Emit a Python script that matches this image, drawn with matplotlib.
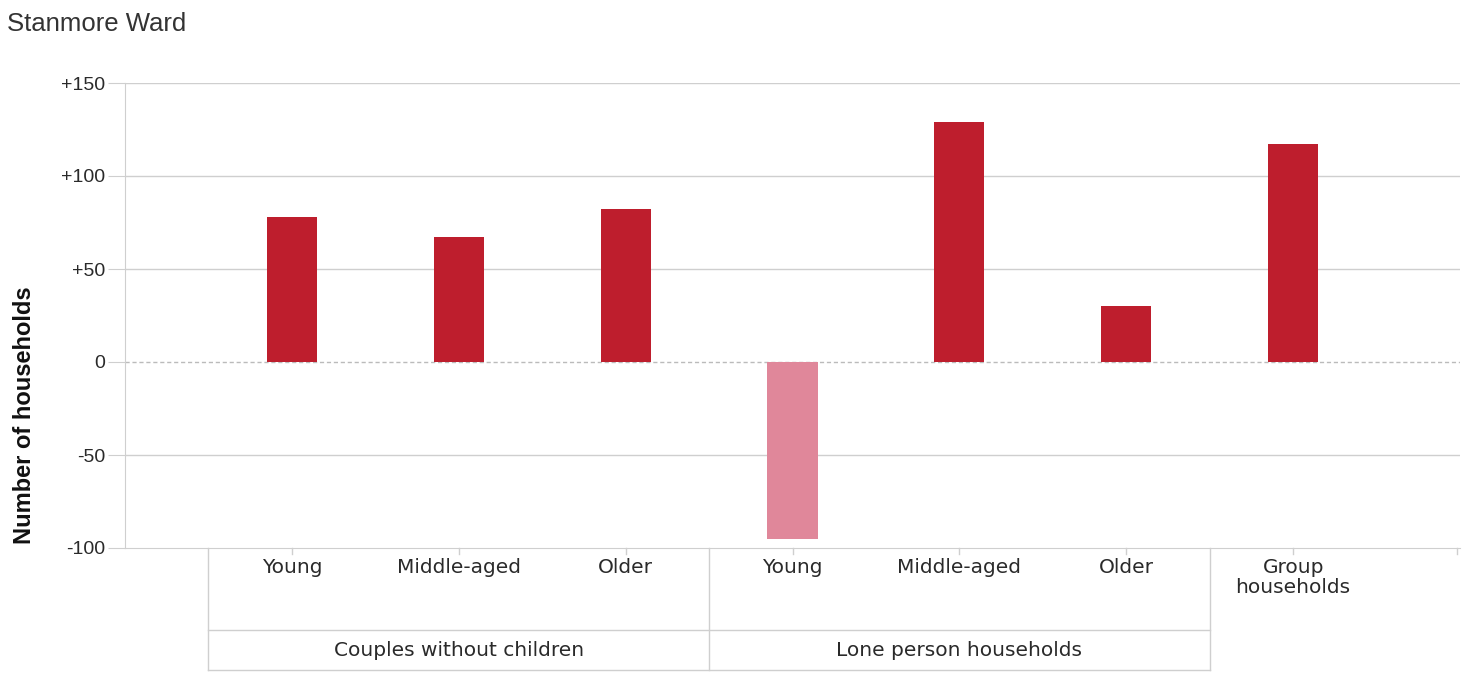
import matplotlib.pyplot as plt
import matplotlib.transforms as mtransforms

# data
sub_labels = ["Young", "Middle-aged", "Older", "Young", "Middle-aged", "Older", "Group\nhouseholds"]
group_labels = ["Couples without children", "Lone person households"]
group_spans = [(0, 2), (3, 5)]
values = [78, 67, 82, -95, 129, 30, 117]

dark_red = "#BE1E2D"
pink = "#E0879A"
grid_col = "#CFCFCF"
text_col = "#2A2A2A"

fig = plt.figure(figsize=(14.66, 6.73), dpi=100)
ax = fig.add_axes([125 / 1466, 1 - 548 / 673, (1460 - 125) / 1466, 465 / 673])

x = list(range(len(values)))
colors = [dark_red if v >= 0 else pink for v in values]
ax.bar(x, values, width=0.3, color=colors, zorder=3)

ax.set_xlim(-1, 7)
ax.set_ylim(-100, 150)
ax.set_yticks([-100, -50, 0, 50, 100, 150])
ax.set_yticklabels(["-100", "-50", "0", "+50", "+100", "+150"],
                   fontsize=14, color=text_col, family="Liberation Sans")
ax.tick_params(axis="y", length=12, color=grid_col, pad=2)
ax.set_xticks([])

for yv in [-50, 50, 100, 150]:
    ax.axhline(yv, color=grid_col, lw=1, zorder=1)
ax.axhline(0, color="#BBBBBB", lw=1, ls=(0, (3, 2)), zorder=1)

for s in ["top", "right"]:
    ax.spines[s].set_visible(False)
ax.spines["left"].set_color(grid_col)
ax.spines["bottom"].set_color(grid_col)

ax.set_ylabel("Number of households", fontsize=17, fontweight="bold",
              family="Liberation Sans", color="#111111")
ax.yaxis.set_label_coords(-0.067, 0.285)

fig.text(7 / 1466, 1 - 24 / 673, "Stanmore Ward", fontsize=18.5,
         family="Liberation Sans", color="#333333", va="center")

# category table under the axis
trans = mtransforms.blended_transform_factory(ax.transData, ax.transAxes)
row_mid = -0.176
row_bot = -0.262
for xv in [-0.5, 2.5, 5.5]:
    ax.plot([xv, xv], [0, row_bot], transform=trans, color=grid_col, lw=1, clip_on=False)
for xv in x:
    ax.plot([xv, xv], [0, -0.012], transform=trans, color=grid_col, lw=1, clip_on=False)
ax.plot([6.98, 6.98], [0, -0.012], transform=trans, color=grid_col, lw=1, clip_on=False)
ax.plot([-0.5, 5.5], [row_mid, row_mid], transform=trans, color=grid_col, lw=1, clip_on=False)
ax.plot([-0.5, 5.5], [row_bot, row_bot], transform=trans, color=grid_col, lw=1, clip_on=False)

for xv, lab in zip(x, sub_labels):
    ax.text(xv, -0.022, lab, transform=trans, ha="center", va="top",
            fontsize=14.5, color=text_col, linespacing=1.05)
for (a, b), lab in zip(group_spans, group_labels):
    ax.text((a + b) / 2, -0.22, lab, transform=trans, ha="center", va="center",
            fontsize=14.5, color=text_col)

fig.savefig("out.png", dpi=100)
